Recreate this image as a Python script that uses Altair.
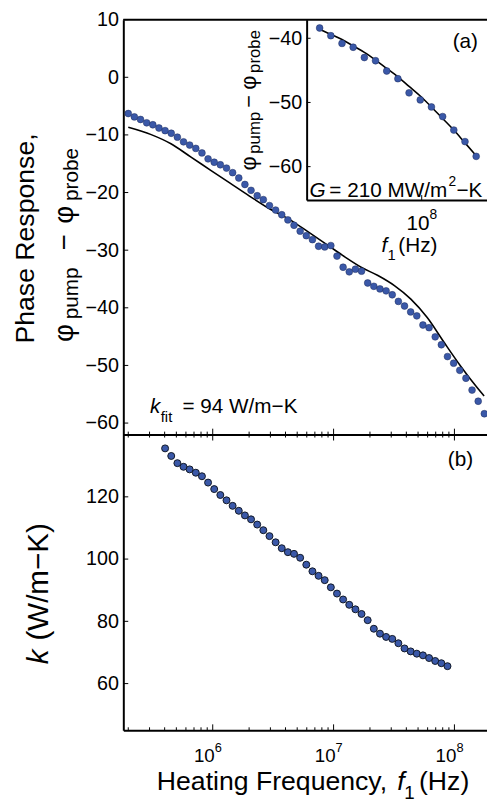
import altair as alt
import pandas as pd

FONT = "Liberation Sans"
BLUE = "#3a58a8"
EDGE = "#1f2d5c"

# ---------------- data ----------------
freq_mhz = [0.200, 0.2247, 0.2526, 0.2840, 0.3193, 0.3589, 0.4035, 0.4536, 0.5099, 0.5732,
            0.6442, 0.7242, 0.8142, 0.9150, 1.0285, 1.156, 1.300, 1.461, 1.643, 1.846,
            2.075, 2.333, 2.622, 2.948, 3.314, 3.724, 4.187, 4.706, 5.290, 5.946,
            6.683, 7.513, 8.445, 9.493, 10.67, 11.99, 13.48, 15.16, 17.03, 19.15,
            21.53, 24.20, 27.20, 30.58, 34.37, 38.64, 43.43, 48.82, 54.88, 61.69,
            69.34, 77.95, 87.61, 98.49, 110.7, 124.5, 139.9, 157.3, 176.8]
phase_deg = [-6.29, -6.87, -7.32, -7.90, -8.24, -8.80, -9.26, -9.71, -10.39, -11.20,
             -11.76, -12.34, -13.13, -14.15, -14.74, -15.18, -15.76, -16.55, -17.47, -18.60,
             -19.62, -20.55, -21.23, -22.26, -23.04, -23.85, -24.75, -25.68, -26.70, -27.49,
             -28.17, -29.32, -29.44, -29.20, -31.03, -32.96, -33.76, -33.30, -33.64, -35.69,
             -36.27, -36.72, -37.06, -37.74, -38.89, -39.69, -40.72, -41.40, -42.99, -43.45,
             -45.04, -46.41, -48.46, -49.61, -50.85, -52.22, -54.27, -56.21, -58.38]

fit_freq_mhz = [0.2000, 0.3097, 0.4510, 0.6567, 0.9559, 1.391, 2.026, 2.949, 4.295, 6.252,
                9.05, 12.46, 17.04, 23.28, 31.86, 43.60, 59.54, 81.47, 111.5, 152.2, 176.0]
fit_phase_deg = [-8.68, -9.95, -11.54, -13.81, -16.10, -18.38, -20.65, -22.82, -24.65, -26.92,
                 -29.20, -31.20, -33.00, -34.40, -36.15, -38.50, -41.70, -45.90, -50.00, -53.71, -55.30]

k_freq_mhz = freq_mhz[6:53]
k_values = [135.57, 133.13, 130.82, 129.65, 128.82, 127.75, 126.61, 124.58, 122.49, 120.59,
            118.88, 117.11, 115.52, 114.03, 112.77, 111.09, 109.28, 107.38, 105.39, 103.49,
            102.22, 101.68, 100.42, 98.20, 96.08, 94.62, 93.23, 90.92, 88.92, 87.02,
            85.31, 83.86, 82.37, 80.37, 77.62, 76.04, 74.99, 74.36, 72.96, 71.29,
            70.34, 69.61, 69.07, 68.21, 67.26, 66.54, 65.59]

inset_freq_mhz = freq_mhz[44:]
inset_phase_deg = [-38.4, -39.6, -40.8, -41.4, -43.0, -43.5, -45.1, -46.3, -48.5, -49.6,
                   -50.7, -52.2, -54.3, -56.1, -58.4]
inset_fit_deg = [-38.6, -39.4, -40.2, -41.2, -42.2, -43.4, -44.7, -46.0, -47.5, -49.0,
                 -50.7, -52.5, -54.3, -56.3, -58.3]

phase_ticks = [-60, -50, -40, -30, -20, -10, 0, 10]
k_ticks = [60, 80, 100, 120]
inset_phase_ticks = [-60, -50, -40]
x_major_ticks = [1e6, 1e7, 1e8]
x_exponents = ["6", "7", "8"]
x_minor_ticks = [2e5, 3e5, 4e5, 5e5, 6e5, 7e5, 8e5, 9e5,
                 2e6, 3e6, 4e6, 5e6, 6e6, 7e6, 8e6, 9e6,
                 2e7, 3e7, 4e7, 5e7, 6e7, 7e7, 8e7, 9e7]
inset_major_ticks = [1e8]
inset_exponents = ["8"]

# ---------------- layout (one plot area, panels placed by scale ranges) ----------------
W = 369
H1 = 421          # top panel height
H2 = 300          # bottom panel height
H = H1 + H2
B = H1            # top of bottom panel

xs = alt.Scale(type="log", domain=[1.82e5, 1.86e8], range=[0, W])
ys1 = alt.Scale(domain=[-62, 10], range=[H1, 0])
ys2 = alt.Scale(domain=[45, 140], range=[H, B])
ixs = alt.Scale(type="log", domain=[3.0e7, 1.98e8], range=[186, W])
iys = alt.Scale(domain=[-65.2, -37.1], range=[183, 0])

def yaxis(values, offset=0):
    return alt.Axis(orient="left", values=values, ticks=False, tickSize=0, labelPadding=5,
                    labelFontSize=20, labelFont=FONT, labelColor="black", domainWidth=2,
                    domainColor="black", grid=False, title=None, offset=offset)

def xaxis(offset=0):
    return alt.Axis(orient="bottom", labels=False, ticks=False, tickSize=0, domainWidth=2,
                    domainColor="black", grid=False, title=None, offset=offset)

ax_y1 = yaxis(phase_ticks)
ax_x1 = xaxis(offset=-H2)
ax_y2 = yaxis(k_ticks)
ax_x2 = xaxis()
ax_iy = yaxis(inset_phase_ticks, offset=-186)
ax_ix = xaxis(offset=-(H - 183))

def one(**kw):
    return pd.DataFrame(kw)

def txt(s, x, y, size, angle=0, align="left", baseline="alphabetic", italic=False):
    return alt.Chart(one(t=[s])).mark_text(
        align=align, baseline=baseline, angle=angle, fontSize=size, font=FONT,
        fontStyle="italic" if italic else "normal", color="black"
    ).encode(x=alt.value(x), y=alt.value(y), text="t:N")

def xticks(values, scale, axis, y0, y1):
    return alt.Chart(one(v=values)).mark_rule(color="black", strokeWidth=1).encode(
        x=alt.X("v:Q", scale=scale, axis=axis), y=alt.value(y0), y2=alt.value(y1))

def yticks(values, scale, axis, x0, x1):
    return alt.Chart(one(v=values)).mark_rule(color="black", strokeWidth=1).encode(
        y=alt.Y("v:Q", scale=scale, axis=axis), x=alt.value(x0), x2=alt.value(x1))

# ---------------- top panel ----------------
main_df = one(f=[v * 1e6 for v in freq_mhz], phase=phase_deg)
fit_df = one(f=[v * 1e6 for v in fit_freq_mhz], phase=fit_phase_deg)

fit_line = alt.Chart(fit_df).mark_line(color="black", strokeWidth=1.6, interpolate="monotone").encode(
    x=alt.X("f:Q", scale=xs, axis=ax_x1), y=alt.Y("phase:Q", scale=ys1, axis=ax_y1))
main_pts = alt.Chart(main_df).mark_point(
    shape="circle", filled=True, size=48, fill=BLUE, stroke=EDGE, strokeWidth=0.5, opacity=1
).encode(x=alt.X("f:Q", scale=xs, axis=ax_x1), y=alt.Y("phase:Q", scale=ys1, axis=ax_y1))

top_border = alt.Chart(one(a=[0])).mark_rule(color="black", strokeWidth=2).encode(
    x=alt.value(0), x2=alt.value(W), y=alt.value(0))

main_group = alt.layer(
    fit_line, main_pts,
    xticks(x_minor_ticks, xs, ax_x1, H1, H1 - 3),
    xticks(x_major_ticks, xs, ax_x1, H1, H1 - 6),
    yticks(phase_ticks, ys1, ax_y1, 0, 5),
    top_border,
    # y title
    txt("Phase Response,", -91, 222, 27, angle=270, align="center"),
    txt("\u03c6", -51, 327, 28, angle=270),
    txt("pump", -46, 304, 21, angle=270),
    txt("\u2212", -51, 226, 28, angle=270, align="center"),
    txt("\u03c6", -51, 207, 28, angle=270),
    txt("probe", -46, 184, 21, angle=270),
    # k_fit annotation
    txt("k", 27, 399, 21, italic=True),
    txt("fit", 38, 408, 15),
    txt("= 94 W/m\u2212K", 60, 399, 21),
)

# ---------------- inset ----------------
inset_df = one(f=[v * 1e6 for v in inset_freq_mhz], phase=inset_phase_deg)
inset_fit_df = one(f=[v * 1e6 for v in inset_freq_mhz], phase=inset_fit_deg)

inset_line = alt.Chart(inset_fit_df).mark_line(color="black", strokeWidth=1.6, interpolate="monotone").encode(
    x=alt.X("f:Q", scale=ixs, axis=ax_ix), y=alt.Y("phase:Q", scale=iys, axis=ax_iy))
inset_pts = alt.Chart(inset_df).mark_point(
    shape="circle", filled=True, size=48, fill=BLUE, stroke=EDGE, strokeWidth=0.5, opacity=1
).encode(x=alt.X("f:Q", scale=ixs, axis=ax_ix), y=alt.Y("phase:Q", scale=iys, axis=ax_iy))

inset_lbl10 = alt.Chart(one(v=inset_major_ticks)).mark_text(
    align="right", baseline="alphabetic", fontSize=21, font=FONT, color="black", dx=8
).encode(x=alt.X("v:Q", scale=ixs, axis=ax_ix), y=alt.value(213), text=alt.value("10"))
inset_lblexp = alt.Chart(one(v=inset_major_ticks, e=inset_exponents)).mark_text(
    align="left", baseline="alphabetic", fontSize=14, font=FONT, color="black", dx=8
).encode(x=alt.X("v:Q", scale=ixs, axis=ax_ix), y=alt.value(202), text="e:N")

inset_group = alt.layer(
    inset_line, inset_pts,
    xticks(inset_major_ticks, ixs, ax_ix, 183, 178),
    yticks(inset_phase_ticks, iys, ax_iy, 186, 190),
    inset_lbl10, inset_lblexp,
    txt("f", 262, 236, 21, italic=True),
    txt("1", 268, 244, 15),
    txt("(Hz)", 279, 236, 21),
    # inset y title
    txt("\u03c6", 135, 153, 22, angle=270),
    txt("pump", 139, 136, 17, angle=270),
    txt("\u2212", 135, 83, 22, angle=270, align="center"),
    txt("\u03c6", 135, 71, 22, angle=270),
    txt("probe", 139, 54, 17, angle=270),
    # G annotation
    txt("G", 189, 180, 21, italic=True),
    txt("= 210 MW/m", 209, 180, 21),
    txt("2", 330, 169, 14),
    txt("\u2212K", 338, 180, 21),
    txt("(a)", 347, 23, 21, align="center", baseline="middle"),
)

# ---------------- bottom panel ----------------
k_df = one(f=[v * 1e6 for v in k_freq_mhz], k=k_values)
k_pts = alt.Chart(k_df).mark_point(
    shape="circle", filled=True, size=50, fill=BLUE, stroke="#111827", strokeWidth=1, opacity=1
).encode(x=alt.X("f:Q", scale=xs, axis=ax_x2), y=alt.Y("k:Q", scale=ys2, axis=ax_y2))

lbl10 = alt.Chart(one(v=x_major_ticks)).mark_text(
    align="right", baseline="alphabetic", fontSize=19, font=FONT, color="black", dx=2
).encode(x=alt.X("v:Q", scale=xs, axis=ax_x2), y=alt.value(B + 332), text=alt.value("10"))
lblexp = alt.Chart(one(v=x_major_ticks, e=x_exponents)).mark_text(
    align="left", baseline="alphabetic", fontSize=13, font=FONT, color="black", dx=2
).encode(x=alt.X("v:Q", scale=xs, axis=ax_x2), y=alt.value(B + 322), text="e:N")

bottom_group = alt.layer(
    k_pts,
    xticks(x_minor_ticks, xs, ax_x2, H, H - 3),
    xticks(x_major_ticks, xs, ax_x2, H, H - 6),
    xticks(x_minor_ticks, xs, ax_x2, B, B + 3),
    xticks(x_major_ticks, xs, ax_x2, B, B + 6),
    yticks(k_ticks, ys2, ax_y2, 0, 5),
    lbl10, lblexp,
    txt("(b)", 342, B + 26, 21, align="center", baseline="middle"),
    txt("k", -76, B + 233, 30, angle=270, italic=True),
    txt("(W/m\u2212K)", -76, B + 209, 30, angle=270),
    txt("Heating Frequency,", 34, B + 361, 27),
    txt("f", 278, B + 361, 27, italic=True),
    txt("1", 285, B + 370, 19),
    txt("(Hz)", 300, B + 361, 27),
)

chart = alt.layer(main_group, inset_group, bottom_group).resolve_scale(
    x="independent", y="independent"
).properties(
    width=W, height=H,
    autosize=alt.AutoSizeParams(type="none"),
    padding={"left": 117, "right": 0, "top": 6, "bottom": 70},
).configure_view(stroke=None)

chart.save("out.html", embed_options={"renderer": "svg", "actions": False})
